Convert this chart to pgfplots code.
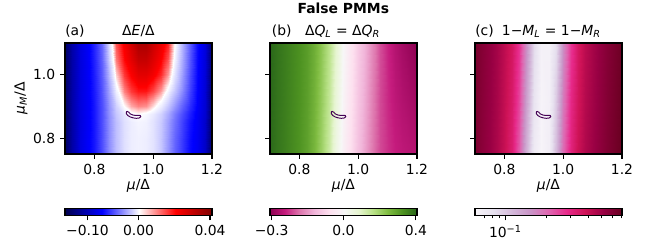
\documentclass[border=0pt]{standalone}
\usepackage{pgfplots}
\usepackage{pgfplotstable}
\pgfplotsset{compat=1.18}
\usepackage{fontspec}
\setmainfont{DejaVu Sans}
\definecolor{cpurple}{RGB}{68,1,84}

\pgfplotsset{
  colormap={seis}{rgb(0pt)=(0,0,0.3); rgb(72pt)=(0,0,1); rgb(144pt)=(1,1,1); rgb(164.55pt)=(1,0,0); rgb(185.1pt)=(0.5,0,0)},
  colormap={piyg}{rgb255(0pt)=(142,1,82); rgb255(61.4pt)=(197,27,125); rgb255(122.8pt)=(222,119,174); rgb255(184.2pt)=(241,182,218); rgb255(245.6pt)=(253,224,239); rgb255(307pt)=(247,247,247); rgb255(388.2pt)=(230,245,208); rgb255(469.4pt)=(184,225,134); rgb255(550.6pt)=(127,188,65); rgb255(631.8pt)=(77,146,33); rgb255(713pt)=(39,100,25)},
  colormap={purd}{rgb255(0pt)=(247,244,249); rgb255(1pt)=(231,225,239); rgb255(2pt)=(212,185,218); rgb255(3pt)=(201,148,199); rgb255(4pt)=(223,101,176); rgb255(5pt)=(231,41,138); rgb255(6pt)=(206,18,86); rgb255(7pt)=(152,0,67); rgb255(8pt)=(103,0,31)},
  common/.style={scale only axis, anchor=south west, enlargelimits=false, axis on top,
    tick align=outside, tick pos=left, major tick length=3.5pt, minor tick length=2pt,
    every major tick/.append style={line width=0.8pt, black},
    every minor tick/.append style={line width=0.6pt, black},
    axis line style={line width=0.8pt}},
  panel/.style={common, width=105.84pt, height=79.92pt, xmin=0.7, xmax=1.2, ymin=0.75, ymax=1.1,
    xtick={0.8,1.0,1.2}, xticklabels={0.8,1.0,1.2}, ytick={0.8,1.0}},
  cbar/.style={common, width=105.84pt, height=5.2pt, ymin=0, ymax=1, ytick=\empty},
}

% Delta E / Delta
\pgfplotstableread{
x y v
0.700 0.75 -0.135
0.725 0.75 -0.108
0.750 0.75 -0.085
0.775 0.75 -0.075
0.800 0.75 -0.066
0.825 0.75 -0.050
0.850 0.75 -0.032
0.875 0.75 -0.018
0.900 0.75 -0.009
0.925 0.75 -0.005
0.950 0.75 -0.004
0.975 0.75 -0.005
1.000 0.75 -0.008
1.025 0.75 -0.016
1.050 0.75 -0.030
1.075 0.75 -0.045
1.100 0.75 -0.058
1.125 0.75 -0.070
1.150 0.75 -0.077
1.175 0.75 -0.095
1.200 0.75 -0.135
0.700 0.80 -0.135
0.725 0.80 -0.108
0.750 0.80 -0.085
0.775 0.80 -0.075
0.800 0.80 -0.066
0.825 0.80 -0.050
0.850 0.80 -0.032
0.875 0.80 -0.018
0.900 0.80 -0.009
0.925 0.80 -0.005
0.950 0.80 -0.004
0.975 0.80 -0.005
1.000 0.80 -0.008
1.025 0.80 -0.016
1.050 0.80 -0.029
1.075 0.80 -0.044
1.100 0.80 -0.057
1.125 0.80 -0.069
1.150 0.80 -0.077
1.175 0.80 -0.094
1.200 0.80 -0.135
0.700 0.85 -0.135
0.725 0.85 -0.108
0.750 0.85 -0.086
0.775 0.85 -0.076
0.800 0.85 -0.066
0.825 0.85 -0.050
0.850 0.85 -0.032
0.875 0.85 -0.018
0.900 0.85 -0.009
0.925 0.85 -0.005
0.950 0.85 -0.003
0.975 0.85 -0.004
1.000 0.85 -0.008
1.025 0.85 -0.015
1.050 0.85 -0.027
1.075 0.85 -0.041
1.100 0.85 -0.055
1.125 0.85 -0.067
1.150 0.85 -0.076
1.175 0.85 -0.093
1.200 0.85 -0.135
0.700 0.875 -0.135
0.725 0.875 -0.107
0.750 0.875 -0.086
0.775 0.875 -0.076
0.800 0.875 -0.066
0.825 0.875 -0.050
0.850 0.875 -0.031
0.875 0.875 -0.016
0.900 0.875 -0.007
0.925 0.875 -0.002
0.950 0.875 0.000
0.975 0.875 -0.002
1.000 0.875 -0.006
1.025 0.875 -0.013
1.050 0.875 -0.024
1.075 0.875 -0.038
1.100 0.875 -0.052
1.125 0.875 -0.064
1.150 0.875 -0.075
1.175 0.875 -0.091
1.200 0.875 -0.134
0.700 0.90 -0.135
0.725 0.90 -0.107
0.750 0.90 -0.086
0.775 0.90 -0.076
0.800 0.90 -0.066
0.825 0.90 -0.050
0.850 0.90 -0.030
0.875 0.90 -0.013
0.900 0.90 0.000
0.925 0.90 0.007
0.950 0.90 0.010
0.975 0.90 0.009
1.000 0.90 0.003
1.025 0.90 -0.005
1.050 0.90 -0.016
1.075 0.90 -0.030
1.100 0.90 -0.046
1.125 0.90 -0.060
1.150 0.90 -0.073
1.175 0.90 -0.090
1.200 0.90 -0.133
0.700 0.95 -0.135
0.725 0.95 -0.107
0.750 0.95 -0.086
0.775 0.95 -0.076
0.800 0.95 -0.065
0.825 0.95 -0.048
0.850 0.95 -0.026
0.875 0.95 -0.004
0.900 0.95 0.010
0.925 0.95 0.016
0.950 0.95 0.019
0.975 0.95 0.019
1.000 0.95 0.015
1.025 0.95 0.008
1.050 0.95 -0.003
1.075 0.95 -0.017
1.100 0.95 -0.035
1.125 0.95 -0.054
1.150 0.95 -0.071
1.175 0.95 -0.089
1.200 0.95 -0.132
0.700 1.00 -0.135
0.725 1.00 -0.107
0.750 1.00 -0.086
0.775 1.00 -0.076
0.800 1.00 -0.064
0.825 1.00 -0.046
0.850 1.00 -0.020
0.875 1.00 0.004
0.900 1.00 0.016
0.925 1.00 0.021
0.950 1.00 0.025
0.975 1.00 0.025
1.000 1.00 0.022
1.025 1.00 0.017
1.050 1.00 0.008
1.075 1.00 -0.009
1.100 1.00 -0.030
1.125 1.00 -0.051
1.150 1.00 -0.070
1.175 1.00 -0.088
1.200 1.00 -0.131
0.700 1.05 -0.135
0.725 1.05 -0.107
0.750 1.05 -0.086
0.775 1.05 -0.076
0.800 1.05 -0.063
0.825 1.05 -0.044
0.850 1.05 -0.014
0.875 1.05 0.011
0.900 1.05 0.020
0.925 1.05 0.025
0.950 1.05 0.030
0.975 1.05 0.030
1.000 1.05 0.026
1.025 1.05 0.021
1.050 1.05 0.014
1.075 1.05 -0.004
1.100 1.05 -0.026
1.125 1.05 -0.048
1.150 1.05 -0.069
1.175 1.05 -0.087
1.200 1.05 -0.130
0.700 1.10 -0.135
0.725 1.10 -0.106
0.750 1.10 -0.086
0.775 1.10 -0.076
0.800 1.10 -0.062
0.825 1.10 -0.042
0.850 1.10 -0.010
0.875 1.10 0.014
0.900 1.10 0.022
0.925 1.10 0.028
0.950 1.10 0.034
0.975 1.10 0.034
1.000 1.10 0.029
1.025 1.10 0.024
1.050 1.10 0.018
1.075 1.10 -0.001
1.100 1.10 -0.024
1.125 1.10 -0.046
1.150 1.10 -0.068
1.175 1.10 -0.086
1.200 1.10 -0.130
}\dataA

% Delta Q
\pgfplotstableread{
x y v
0.700 0.75 0.396
0.725 0.75 0.376
0.750 0.75 0.358
0.775 0.75 0.340
0.800 0.75 0.322
0.825 0.75 0.295
0.850 0.75 0.256
0.875 0.75 0.203
0.900 0.75 0.130
0.925 0.75 0.040
0.950 0.75 -0.020
0.975 0.75 -0.066
1.000 0.75 -0.108
1.025 0.75 -0.148
1.050 0.75 -0.186
1.075 0.75 -0.215
1.100 0.75 -0.233
1.125 0.75 -0.245
1.150 0.75 -0.253
1.175 0.75 -0.259
1.200 0.75 -0.263
0.700 0.925 0.398
0.725 0.925 0.378
0.750 0.925 0.360
0.775 0.925 0.343
0.800 0.925 0.325
0.825 0.925 0.300
0.850 0.925 0.264
0.875 0.925 0.214
0.900 0.925 0.145
0.925 0.925 0.060
0.950 0.925 -0.010
0.975 0.925 -0.058
1.000 0.925 -0.100
1.025 0.925 -0.140
1.050 0.925 -0.180
1.075 0.925 -0.215
1.100 0.925 -0.238
1.125 0.925 -0.255
1.150 0.925 -0.267
1.175 0.925 -0.277
1.200 0.925 -0.285
0.700 1.10 0.400
0.725 1.10 0.380
0.750 1.10 0.362
0.775 1.10 0.345
0.800 1.10 0.328
0.825 1.10 0.305
0.850 1.10 0.272
0.875 1.10 0.225
0.900 1.10 0.160
0.925 1.10 0.080
0.950 1.10 0.000
0.975 1.10 -0.050
1.000 1.10 -0.092
1.025 1.10 -0.132
1.050 1.10 -0.172
1.075 1.10 -0.212
1.100 1.10 -0.242
1.125 1.10 -0.265
1.150 1.10 -0.282
1.175 1.10 -0.296
1.200 1.10 -0.307
}\dataB

% 1 - M
\pgfplotstableread{
x y v
0.700 0.75 0.615
0.725 0.75 0.565
0.750 0.75 0.515
0.775 0.75 0.462
0.800 0.75 0.400
0.825 0.75 0.322
0.850 0.75 0.217
0.875 0.75 0.122
0.900 0.75 0.070
0.925 0.75 0.060
0.950 0.75 0.067
0.975 0.75 0.110
1.000 0.75 0.200
1.025 0.75 0.310
1.050 0.75 0.390
1.075 0.75 0.455
1.100 0.75 0.510
1.125 0.75 0.556
1.150 0.75 0.605
1.175 0.75 0.655
1.200 0.75 0.705
0.700 0.925 0.625
0.725 0.925 0.575
0.750 0.925 0.525
0.775 0.925 0.475
0.800 0.925 0.410
0.825 0.925 0.340
0.850 0.925 0.245
0.875 0.925 0.140
0.900 0.925 0.078
0.925 0.925 0.061
0.950 0.925 0.065
0.975 0.925 0.098
1.000 0.925 0.180
1.025 0.925 0.290
1.050 0.925 0.370
1.075 0.925 0.440
1.100 0.925 0.495
1.125 0.925 0.545
1.150 0.925 0.595
1.175 0.925 0.645
1.200 0.925 0.695
0.700 1.10 0.636
0.725 1.10 0.586
0.750 1.10 0.536
0.775 1.10 0.486
0.800 1.10 0.425
0.825 1.10 0.360
0.850 1.10 0.270
0.875 1.10 0.160
0.900 1.10 0.086
0.925 1.10 0.063
0.950 1.10 0.063
0.975 1.10 0.084
1.000 1.10 0.158
1.025 1.10 0.265
1.050 1.10 0.355
1.075 1.10 0.425
1.100 1.10 0.484
1.125 1.10 0.534
1.150 1.10 0.584
1.175 1.10 0.634
1.200 1.10 0.684
}\dataC

% contour (same in all panels)
\pgfplotstableread{
x y
0.9108 0.8844
0.9169 0.8819
0.9220 0.8765
0.9305 0.8730
0.9390 0.8717
0.9492 0.8721
0.9559 0.8714
0.9576 0.8676
0.9525 0.8635
0.9424 0.8625
0.9322 0.8638
0.9220 0.8667
0.9136 0.8714
0.9085 0.8771
0.9085 0.8819
0.9108 0.8844
}\bean

\begin{document}
\begin{tikzpicture}
\path[use as bounding box] (0,0) rectangle (468pt,176.4pt);

% ---------- panel (a)
\begin{axis}[panel, at={(46.8pt,65.52pt)}, colormap name=seis, point meta min=-0.144, point meta max=0.0411,
  yticklabels={0.8,1.0}]
\addplot[surf, shader=interp, mesh/cols=21, point meta=\thisrow{v}] table[x=x,y=y] {\dataA};
\addplot[cpurple, line width=0.7pt, mark=none] table[x=x,y=y] {\bean};
\end{axis}

% ---------- panel (b)
\begin{axis}[panel, at={(194.4pt,65.52pt)}, colormap name=piyg, point meta min=-0.307, point meta max=0.406,
  yticklabels={}]
\addplot[surf, shader=interp, mesh/cols=21, point meta=\thisrow{v}] table[x=x,y=y] {\dataB};
\addplot[cpurple, line width=0.7pt, mark=none] table[x=x,y=y] {\bean};
\end{axis}

% ---------- panel (c)
\begin{axis}[panel, at={(342pt,65.52pt)}, colormap name=purd, point meta min=-1.2211, point meta max=-0.15,
  yticklabels={}]
\addplot[surf, shader=interp, mesh/cols=21, point meta={log10(\thisrow{v})}] table[x=x,y=y] {\dataC};
\addplot[cpurple, line width=0.7pt, mark=none] table[x=x,y=y] {\bean};
\end{axis}

% ---------- colorbars
\begin{axis}[cbar, at={(46.8pt,21.24pt)}, xmin=0, xmax=1, colormap name=seis, point meta min=-0.144, point meta max=0.0411,
  xtick={0.1528,0.5,0.9866}, xticklabels={−0.10,0.00,0.04}]
\addplot[surf, shader=interp, mesh/cols=3, point meta=\thisrow{c}] table[row sep=\\] {x y c\\ 0 0 -0.144\\ 0.5 0 0\\ 1 0 0.0411\\ 0 1 -0.144\\ 0.5 1 0\\ 1 1 0.0411\\};
\end{axis}

\begin{axis}[cbar, at={(194.4pt,21.24pt)}, xmin=0, xmax=1, colormap name=piyg, point meta min=-0.307, point meta max=0.406,
  xtick={0.0114,0.5,0.9926}, xticklabels={−0.3,0.0,0.4}]
\addplot[surf, shader=interp, mesh/cols=3, point meta=\thisrow{c}] table[row sep=\\] {x y c\\ 0 0 -0.307\\ 0.5 0 0\\ 1 0 0.406\\ 0 1 -0.307\\ 0.5 1 0\\ 1 1 0.406\\};
\end{axis}

\begin{axis}[cbar, at={(342pt,21.24pt)}, xmode=log, xmin=0.0601, xmax=0.708, colormap name=purd, point meta min=-1.2211, point meta max=-0.15,
  xtick={0.1}, xticklabels={10\textsuperscript{−1}}, minor xtick={0.07,0.08,0.09,0.2,0.3,0.4,0.5,0.6,0.7}]
\addplot[surf, shader=interp, mesh/cols=2, point meta=\thisrow{c}] table[row sep=\\] {x y c\\ 0.0601 0 -1.2211\\ 0.708 0 -0.15\\ 0.0601 1 -1.2211\\ 0.708 1 -0.15\\};
\end{axis}

% ---------- texts
\node[anchor=base, inner sep=0, font=\bfseries] at (247.2pt,166.7pt) {False PMMs};
\node[anchor=base west, inner sep=0] at (46.8pt,150.8pt) {(a)};
\node[anchor=base, inner sep=0] at (99.7pt,150.8pt) {Δ\textit{E}/Δ};
\node[anchor=base west, inner sep=0] at (195.6pt,150.8pt) {(b)};
\node[anchor=base, inner sep=0] at (246.6pt,150.8pt) {Δ\textit{Q}\textsubscript{\textit{L}} = Δ\textit{Q}\textsubscript{\textit{R}}};
\node[anchor=base west, inner sep=0] at (342pt,150.8pt) {(c)};
\node[anchor=base west, inner sep=0] at (361.2pt,150.8pt) {1−\textit{M}\textsubscript{\textit{L}} = 1−\textit{M}\textsubscript{\textit{R}}};
\node[anchor=base, inner sep=0] at (99.7pt,39.6pt) {\textit{μ}/Δ};
\node[anchor=base, inner sep=0] at (247.3pt,39.6pt) {\textit{μ}/Δ};
\node[anchor=base, inner sep=0] at (394.9pt,39.6pt) {\textit{μ}/Δ};
\node[rotate=90, anchor=center, inner sep=0] at (15.1pt,105.5pt) {\textit{μ}\textsubscript{\textit{M}}/Δ};
\end{tikzpicture}
\end{document}
